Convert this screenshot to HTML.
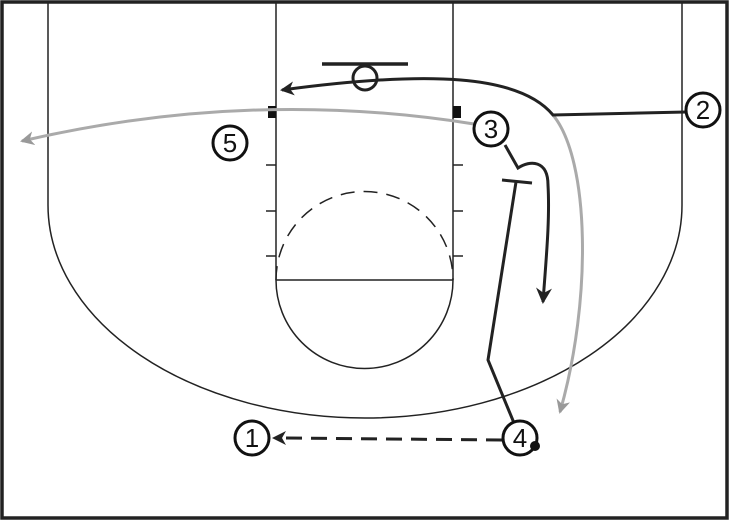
<!DOCTYPE html>
<html><head><style>body{margin:0;background:#fff}svg{display:block}</style></head><body>
<svg width="730" height="521" viewBox="0 0 730 521" xmlns="http://www.w3.org/2000/svg">
<defs>
<marker id="ab" markerWidth="14" markerHeight="14" refX="12" refY="7" orient="auto" markerUnits="userSpaceOnUse"><path d="M0,0 L14,7 L0,14 L4,7 Z" fill="#222"/></marker>
<marker id="ag" markerWidth="14" markerHeight="14" refX="12" refY="7" orient="auto" markerUnits="userSpaceOnUse"><path d="M0,0 L14,7 L0,14 L4,7 Z" fill="#999"/></marker>
<marker id="ab2" markerWidth="16" markerHeight="16" refX="14" refY="8" orient="auto" markerUnits="userSpaceOnUse"><path d="M0,0 L16,8 L0,16 L5,8 Z" fill="#222"/></marker>
</defs>
<rect x="2" y="2" width="725" height="516" fill="none" stroke="#222" stroke-width="3.5"/>
<g stroke="#222" stroke-width="1.5" fill="none">
<line x1="48" y1="2" x2="48" y2="205"/><line x1="682" y1="2" x2="682" y2="205"/>
<path d="M48,205 A317,213 0 0 0 682,205"/>
<line x1="276" y1="2" x2="276" y2="280"/><line x1="453" y1="2" x2="453" y2="280"/>
<line x1="276" y1="280" x2="453" y2="280"/>
<path d="M276,280 A88.5,88.5 0 0 0 453,280"/>
<path d="M276,280 A88.5,88.5 0 0 1 453,280" stroke-dasharray="14,9"/>
<line x1="266" y1="165" x2="276" y2="165"/><line x1="266" y1="211" x2="276" y2="211"/><line x1="266" y1="256" x2="276" y2="256"/>
<line x1="453" y1="165" x2="463" y2="165"/><line x1="453" y1="211" x2="463" y2="211"/><line x1="453" y1="256" x2="463" y2="256"/>
</g>
<rect x="268" y="106" width="8" height="12" fill="#111"/><rect x="453" y="106" width="8" height="12" fill="#111"/>
<line x1="322" y1="64" x2="408" y2="64" stroke="#222" stroke-width="3.5"/>
<circle cx="365" cy="78" r="12" fill="none" stroke="#222" stroke-width="3"/>
<g fill="none" stroke-width="3">
<path d="M474,124 Q250,88 22,141" stroke="#aaa" marker-end="url(#ag)"/>
<path d="M553,115 C590,160 592,300 560,412" stroke="#aaa" marker-end="url(#ag)"/>
<path d="M686,112 L553,115 C520,75 430,70 282,90" stroke="#222" marker-end="url(#ab)"/>
<path d="M505,145 L518,168 C530,160 548,160 548,185 C550,220 546,260 543,302" stroke="#222" marker-end="url(#ab2)"/>
<line x1="502" y1="180" x2="532" y2="183" stroke="#222"/>
<path d="M516,182 L488,360 L514,423" stroke="#222"/>
<line x1="502" y1="440" x2="282" y2="438" stroke="#222" stroke-dasharray="16,9"/>
</g>
<path d="M272,438 L286,431 L282,438 L286,445 Z" fill="#222"/>
<g fill="#fff" stroke="#111" stroke-width="3">
<circle cx="703" cy="110" r="17"/><circle cx="491" cy="129" r="17"/><circle cx="230" cy="143" r="17"/>
<circle cx="252" cy="438" r="17"/><circle cx="520" cy="438" r="17"/>
</g>
<circle cx="535" cy="446" r="5" fill="#111"/>
<g font-family="Liberation Sans, sans-serif" font-size="26" text-anchor="middle" fill="#111">
<text x="703" y="119">2</text><text x="491" y="138">3</text><text x="230" y="152">5</text>
<text x="252" y="447">1</text><text x="520" y="447">4</text>
</g>
</svg>
</body></html>
